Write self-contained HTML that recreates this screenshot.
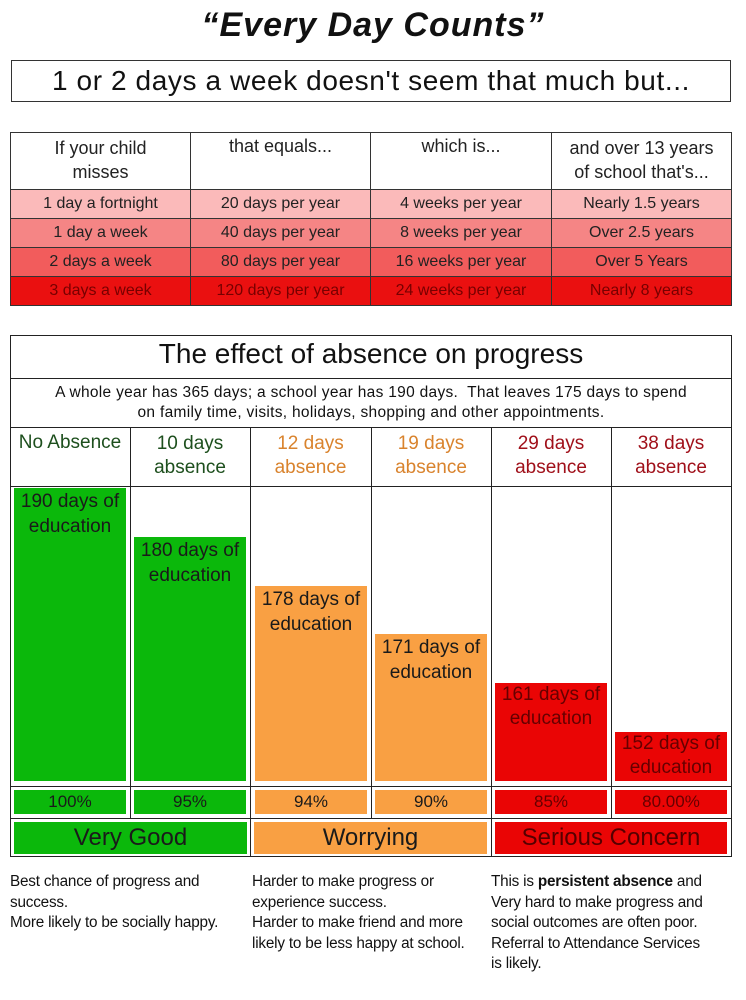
<!DOCTYPE html>
<html><head><meta charset="utf-8"><style>
*{margin:0;padding:0;box-sizing:border-box}
body{width:746px;height:1000px;background:#fff;position:relative;font-family:"Liberation Sans",sans-serif;color:#111;overflow:hidden}
.a{position:absolute}
.c{text-align:center}
.t td{border:1px solid #333;text-align:center;font-size:16px;color:#222}
.g{background:#0bb80b}.o{background:#f9a043}.r{background:#ea0505}
.bx{position:absolute;text-align:center;color:#1a1a1a}
.vl{position:absolute;width:1px;background:#222}
.hl{position:absolute;height:1px;background:#222}
.ft{position:absolute;font-size:15.3px;line-height:20.5px;color:#111;top:872px;letter-spacing:-0.2px}
</style></head><body>
<div class="a c" style="left:0;width:746px;top:6px;font-size:34px;font-weight:bold;font-style:italic;letter-spacing:1px">“Every Day Counts”</div>
<div class="a c" style="left:11px;top:60px;width:720px;height:42px;border:1.5px solid #333;font-size:28px;line-height:40px;letter-spacing:0.6px">1 or 2 days a week doesn't seem that much but...</div>

<table class="t a" style="left:10px;top:132px;width:722px;border-collapse:collapse">
<tr style="height:57px;background:#fff"><td style="width:180px;vertical-align:top;font-size:18px;line-height:24px;padding-top:3px">If your child<br>misses</td><td style="width:180px;vertical-align:top;font-size:18px;padding-top:3px">that equals...</td><td style="width:181px;vertical-align:top;font-size:18px;padding-top:3px">which is...</td><td style="vertical-align:top;font-size:18px;line-height:24px;padding-top:3px">and over 13 years<br>of school that's...</td></tr>
<tr style="height:29px;background:#fbbaba"><td>1 day a fortnight</td><td>20 days per year</td><td>4 weeks per year</td><td>Nearly 1.5 years</td></tr>
<tr style="height:29px;background:#f58585"><td>1 day a week</td><td>40 days per year</td><td>8 weeks per year</td><td>Over 2.5 years</td></tr>
<tr style="height:29px;background:#f25c5c"><td>2 days a week</td><td>80 days per year</td><td>16 weeks per year</td><td>Over 5 Years</td></tr>
<tr style="height:29px;background:#ea1010"><td style="color:#700">3 days a week</td><td style="color:#700">120 days per year</td><td style="color:#700">24 weeks per year</td><td style="color:#700">Nearly 8 years</td></tr>
</table>

<div class="a" style="left:10px;top:335px;width:722px;height:522px;border:1.5px solid #222"></div>
<div class="a c" style="left:10px;top:338px;width:722px;font-size:28px">The effect of absence on progress</div>
<div class="hl" style="left:10px;top:378px;width:722px"></div>
<div class="a c" style="left:10px;top:383px;width:722px;font-size:15.5px;line-height:20px;letter-spacing:0.3px">A whole year has 365 days; a school year has 190 days.&nbsp; That leaves 175 days to spend<br>on family time, visits, holidays, shopping and other appointments.</div>
<div class="hl" style="left:10px;top:427px;width:722px"></div>
<div class="hl" style="left:10px;top:486px;width:722px"></div>
<div class="hl" style="left:10px;top:786px;width:722px"></div>
<div class="hl" style="left:10px;top:818px;width:722px"></div>
<div class="vl" style="left:130px;top:427px;height:391px"></div>
<div class="vl" style="left:250px;top:427px;height:430px"></div>
<div class="vl" style="left:371px;top:427px;height:391px"></div>
<div class="vl" style="left:491px;top:427px;height:430px"></div>
<div class="vl" style="left:611px;top:427px;height:391px"></div>

<div class="bx" style="left:10px;top:432px;width:120px;font-size:19px;color:#1d4f1d">No Absence</div>
<div class="bx" style="left:130px;top:432px;width:120px;font-size:19px;line-height:24px;color:#1d4f1d">10 days<br>absence</div>
<div class="bx" style="left:250px;top:432px;width:121px;font-size:19px;line-height:24px;color:#d9832d">12 days<br>absence</div>
<div class="bx" style="left:371px;top:432px;width:120px;font-size:19px;line-height:24px;color:#d9832d">19 days<br>absence</div>
<div class="bx" style="left:491px;top:432px;width:120px;font-size:19px;line-height:24px;color:#a0101a">29 days<br>absence</div>
<div class="bx" style="left:611px;top:432px;width:120px;font-size:19px;line-height:24px;color:#a0101a">38 days<br>absence</div>

<div class="bx g" style="left:14px;top:488px;width:112px;height:293px;font-size:19px;line-height:25px;padding-top:1px">190 days of<br>education</div>
<div class="bx g" style="left:134px;top:537px;width:112px;height:244px;font-size:19px;line-height:25px;padding-top:1px">180 days of<br>education</div>
<div class="bx o" style="left:255px;top:586px;width:112px;height:195px;font-size:19px;line-height:25px;padding-top:1px">178 days of<br>education</div>
<div class="bx o" style="left:375px;top:634px;width:112px;height:147px;font-size:19px;line-height:25px;padding-top:1px">171 days of<br>education</div>
<div class="bx r" style="left:495px;top:683px;width:112px;height:98px;font-size:19px;line-height:24px;color:#600">161 days of<br>education</div>
<div class="bx r" style="left:615px;top:732px;width:112px;height:49px;font-size:19px;line-height:24px;color:#600">152 days of<br>education</div>

<div class="bx g" style="left:14px;top:790px;width:112px;height:24px;font-size:17px;line-height:24px">100%</div>
<div class="bx g" style="left:134px;top:790px;width:112px;height:24px;font-size:17px;line-height:24px">95%</div>
<div class="bx o" style="left:255px;top:790px;width:112px;height:24px;font-size:17px;line-height:24px">94%</div>
<div class="bx o" style="left:375px;top:790px;width:112px;height:24px;font-size:17px;line-height:24px">90%</div>
<div class="bx r" style="left:495px;top:790px;width:112px;height:24px;font-size:17px;line-height:24px;color:#600">85%</div>
<div class="bx r" style="left:615px;top:790px;width:112px;height:24px;font-size:17px;line-height:24px;color:#600">80.00%</div>

<div class="bx g" style="left:14px;top:822px;width:233px;height:32px;font-size:24px;line-height:32px">Very Good</div>
<div class="bx o" style="left:254px;top:822px;width:233px;height:32px;font-size:24px;line-height:32px">Worrying</div>
<div class="bx r" style="left:495px;top:822px;width:232px;height:32px;font-size:24px;line-height:32px;color:#500">Serious Concern</div>

<div class="ft" style="left:10px">Best chance of progress and<br>success.<br>More likely to be socially happy.</div>
<div class="ft" style="left:252px">Harder to make progress or<br>experience success.<br>Harder to make friend and more<br>likely to be less happy at school.</div>
<div class="ft" style="left:491px">This is <b>persistent absence</b> and<br>Very hard to make progress and<br>social outcomes are often poor.<br>Referral to Attendance Services<br>is likely.</div>
</body></html>
